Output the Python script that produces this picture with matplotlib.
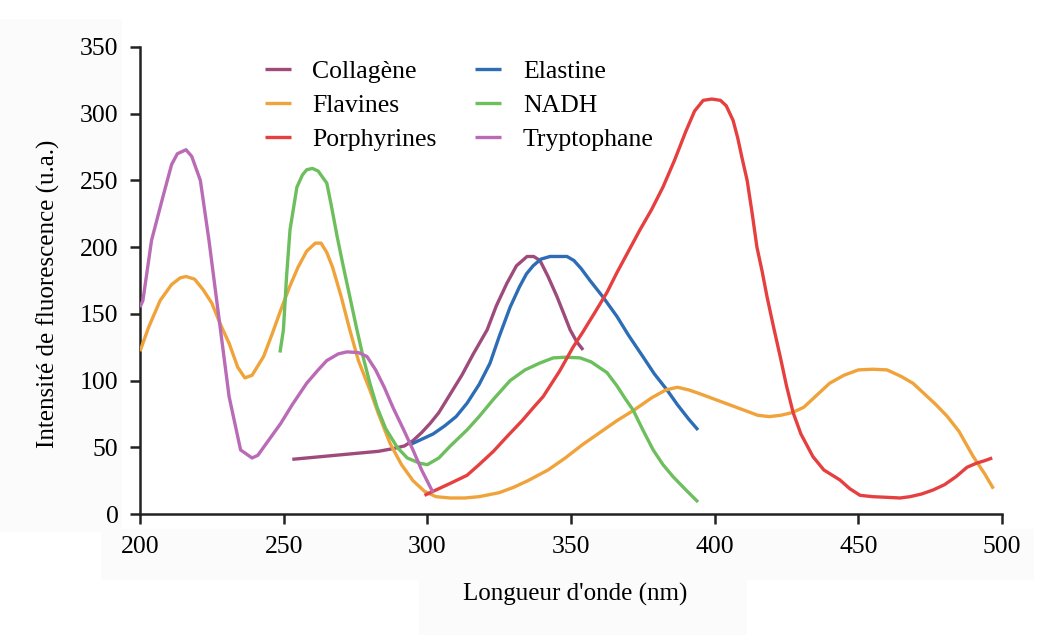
import matplotlib
matplotlib.use("Agg")
import matplotlib.pyplot as plt
from matplotlib.patches import Rectangle

plt.rcParams['font.family'] = ['Liberation Serif', 'DejaVu Serif']

# ---- data ----
tryp_x = [200, 201, 204, 208, 211, 213, 216, 218, 221, 224, 228, 231, 235, 239, 241, 245, 249, 253,
          258, 262, 265, 269, 272, 276, 279, 282, 285, 288, 292, 295, 298, 302]
tryp_y = [155, 160, 205, 238, 262, 270, 273, 268, 250, 205, 138, 88, 48, 42, 44, 56, 68, 82,
          98, 108, 115, 120, 121.5, 121, 118, 108, 95, 80, 62, 48, 33, 16]

flav_x = [200, 203, 207, 211, 214, 216, 219, 222, 225, 228, 231, 234, 236.5, 239, 243, 246, 249, 252,
          255, 258, 261, 263, 265, 267, 270, 273, 276, 280, 283, 287, 291, 295, 299, 303, 308, 313,
          318, 325, 330, 335, 342, 348, 354, 360, 366, 372, 378, 383, 387, 391, 395, 400, 405, 410,
          415, 419, 423, 427, 431, 436, 440, 445, 450, 455, 460, 465, 469, 473, 477, 481, 485, 490,
          494, 497]
flav_y = [122, 140, 160, 172, 177, 178, 176, 168, 158, 142, 128, 110, 102, 104, 118, 135, 153, 170,
          185, 197, 203, 203, 196, 185, 163, 138, 115, 93, 75, 53, 37, 25, 17, 13, 12, 12,
          13, 16, 20, 25, 33, 42, 52, 61, 70, 78, 87, 93, 95, 93, 90, 86, 82, 78,
          74, 73, 74, 76, 80, 90, 98, 104, 108, 108.5, 108, 103, 98, 90, 82, 73, 62, 43,
          30, 19]

nadh_x = [248.7, 249.9, 251, 252.2, 254.6, 256.5, 258, 260, 262, 265, 266.5, 268.6, 270.5, 273, 275.5,
          277.6, 280, 282.5, 285.5, 289.5, 293, 297.5, 300, 304, 308, 313.8, 318, 323, 328.8, 334,
          339, 343.8, 348, 353.2, 357, 362.5, 366, 369, 371.6, 375, 378.6, 382, 385.5, 390, 394.2]
nadh_y = [121, 138, 178, 213, 245, 254, 258, 259, 257, 248, 232, 208, 188, 163, 138,
          118, 98, 80, 64, 50, 42, 38, 37, 42, 51, 63, 73, 86, 100, 108,
          113, 117, 117.5, 117, 114, 106, 96, 86, 78, 63, 48, 37, 28, 18, 9]

coll_x = [253, 258, 263, 268, 273, 278, 283, 288, 292, 295, 298, 301, 304, 308, 312, 316, 320.8,
          324, 327.7, 331, 334.7, 337, 339.2, 342, 345.1, 347.5, 349.7, 352, 354.2]
coll_y = [41, 42, 43, 44, 45, 46, 47, 49, 51, 55, 61, 68, 76, 90, 104, 120, 138,
          156, 173, 186, 193, 193, 190, 178, 163, 150, 138, 129, 123]

elas_x = [294, 298, 302, 306, 310, 313.8, 318, 321.8, 325, 328.8, 332, 334.5, 336.8, 339.5, 342.7,
          345.5, 348.6, 351, 353.5, 356.6, 361, 366, 370, 375, 379, 383.4, 387, 391, 394.2]
elas_y = [52, 56, 60, 66, 73, 83, 97, 113, 133, 155, 170, 180, 186, 191, 193,
          193, 193, 190, 184, 175, 163, 148, 134, 118, 105, 93, 82, 71, 63]

porp_x = [299, 303, 308, 313.8, 318, 323, 327.7, 333, 337, 340.3, 343, 346, 350.7, 354, 358, 362.5,
          366, 370, 374, 378, 382, 386, 390, 393, 396, 399, 402, 404, 406.4, 408, 409.5, 411.3, 413,
          414.7, 416.5, 418.2, 420.5, 422.8, 425, 427.3, 430, 434.2, 438, 443.6, 447, 450.6, 455,
          460, 464.5, 468, 472, 476, 480, 484, 487.8, 491, 494, 496.6]
porp_y = [14, 18, 23, 29, 37, 47, 58, 70, 80, 88, 97, 107, 125, 136, 150, 166,
          181, 197, 213, 228, 245, 265, 287, 302, 310, 311, 310, 306, 295, 282, 267, 250, 226,
          200, 182, 163, 140, 118, 96, 76, 60, 43, 33, 25.5, 19, 14, 13,
          12.5, 12, 13, 15, 18, 22, 28, 35, 38, 40, 42]

series = [
    ("Collagène", coll_x, coll_y, "#9e4b7c"),
    ("Flavines", flav_x, flav_y, "#f0a33a"),
    ("Porphyrines", porp_x, porp_y, "#e5403f"),
    ("Elastine", elas_x, elas_y, "#2d6db5"),
    ("NADH", nadh_x, nadh_y, "#6cbf5c"),
    ("Tryptophane", tryp_x, tryp_y, "#b96bb6"),
]
draw_order = ["Collagène", "Elastine", "Flavines", "NADH", "Porphyrines", "Tryptophane"]

x_ticks = [200, 250, 300, 350, 400, 450, 500]
y_ticks = [0, 50, 100, 150, 200, 250, 300, 350]

fig = plt.figure(figsize=(10.6, 6.41), dpi=100)
fig.patch.set_facecolor("white")

# faint background boxes seen in the reference
for (x0, y0, w, h) in [(0, 0.17, 0.115, 0.80), (0.095, 0.095, 0.88, 0.08), (0.395, 0.01, 0.31, 0.085)]:
    fig.patches.append(Rectangle((x0, y0), w, h, transform=fig.transFigure,
                                 facecolor="#fafbfa", edgecolor="none", zorder=0))

ax = fig.add_axes([0.1321, 0.1981, 0.8132, 0.7286])
ax.set_zorder(2)
ax.set_facecolor("none")

handles = {}
for name, xs, ys, col in series:
    ln, = ax.plot(xs, ys, color=col, lw=2.4, label=name, solid_capstyle="butt",
                  zorder=2 + draw_order.index(name))
    handles[name] = ln

ax.set_xlim(200, 500)
ax.set_ylim(0, 350)
ax.set_xticks(x_ticks)
ax.set_yticks(y_ticks)
ax.spines["top"].set_visible(False)
ax.spines["right"].set_visible(False)
for s in ("left", "bottom"):
    ax.spines[s].set_linewidth(1.8)
    ax.spines[s].set_color("#222222")
ax.tick_params(axis="both", direction="out", length=7.5, width=1.8, color="#222222",
               labelsize=18.5, pad=8)

ax.set_ylabel("Intensité de fluorescence (u.a.)", fontsize=18)
ax.set_xlabel("Longueur d'onde (nm)", fontsize=18)
ax.yaxis.set_label_coords(-0.093, 0.472)
ax.xaxis.set_label_coords(0.5045, -0.148)

order = ["Collagène", "Flavines", "Porphyrines", "Elastine", "NADH", "Tryptophane"]
ax.legend([handles[n] for n in order], order, ncol=2, frameon=False, fontsize=18.5,
          loc="upper left", bbox_to_anchor=(0.133, 0.9935), handlelength=1.0,
          handletextpad=0.85, columnspacing=1.5, labelspacing=0.42, borderaxespad=0)

fig.savefig("out.png", dpi=100, facecolor="white")
